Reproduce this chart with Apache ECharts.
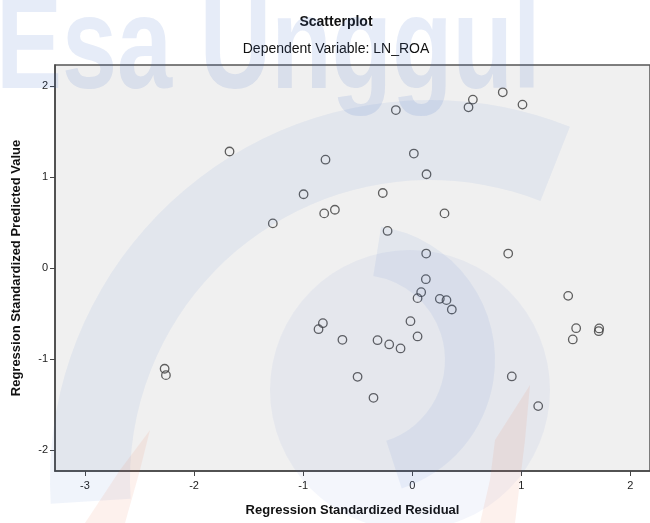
<!DOCTYPE html>
<html>
<head>
<meta charset="utf-8">
<script src="https://cdn.jsdelivr.net/npm/echarts@6/dist/echarts.min.js"></script>
<style>
html,body{margin:0;padding:0;background:#fff;}
#chart{width:650px;height:523px;}
</style>
</head>
<body>
<div id="chart"></div>
<script>
// Regression Standardized Residual (x) and Predicted Value (y)
const residuals = [
  -1.675, -0.795, -0.996, -0.807, -0.709, -1.278,
  -0.150, 0.556, 0.516, 0.830, 1.011, 0.015, 0.131, -0.270, 0.296, -0.226, 0.128, 0.880,
  -2.270, -2.258, -0.819, -0.859, -0.640,
  0.125, 0.082, 0.049, 0.253, 0.314, 0.363, -0.016, 0.049, -0.318, -0.211, -0.107,
  -0.501, -0.355, 1.430, 1.503, 1.472, 1.714, 1.710, 0.913, 1.155
];
const predicted = [
  1.28, 1.19, 0.81, 0.60, 0.64, 0.49,
  1.735, 1.85, 1.765, 1.93, 1.795, 1.257, 1.03, 0.824, 0.60, 0.407, 0.159, 0.159,
  -1.107, -1.177, -0.606, -0.672, -0.789,
  -0.123, -0.266, -0.331, -0.339, -0.353, -0.456, -0.584, -0.752, -0.793, -0.840, -0.884,
  -1.195, -1.426, -0.306, -0.661, -0.785, -0.664, -0.694, -1.191, -1.517
];
const xTicks = [-3, -2, -1, 0, 1, 2];
const yTicks = [-2, -1, 0, 1, 2];
const chartTitle = 'Scatterplot';
const chartSubtitle = 'Dependent Variable: LN_ROA';
const xTitle = 'Regression Standardized Residual';
const yTitle = 'Regression Standardized Predicted Value';
const watermark = 'Esa Unggul';

const points = residuals.map((r, i) => [r, predicted[i]]);
const FONT = '"Liberation Sans", Arial, sans-serif';

const chart = echarts.init(document.getElementById('chart'), null, {renderer: 'canvas'});
chart.setOption({
  animation: false,
  backgroundColor: '#ffffff',
  title: [
    {text: chartTitle, left: 331, top: 10, textAlign: 'center',
     textStyle: {fontFamily: FONT, fontSize: 14, fontWeight: 'bold', color: '#111'}},
    {text: chartSubtitle, left: 331, top: 37, textAlign: 'center',
     textStyle: {fontFamily: FONT, fontSize: 14, fontWeight: 'normal', color: '#111'}}
  ],
  grid: {left: 55, top: 65, right: -3, bottom: 52, show: true,
         backgroundColor: '#f0f0f0', borderColor: '#555', borderWidth: 1.5},
  xAxis: {
    type: 'value', min: -3.275, max: 2.18,
    name: xTitle, nameLocation: 'middle', nameGap: 33,
    nameTextStyle: {fontFamily: FONT, fontSize: 13, fontWeight: 'bold', color: '#111'},
    splitLine: {show: false},
    axisLine: {show: true, onZero: false, lineStyle: {color: '#444', width: 1.5}},
    axisTick: {show: true, length: 5, lineStyle: {color: '#444'}, customValues: xTicks},
    axisLabel: {customValues: xTicks, fontFamily: FONT, fontSize: 11, color: '#222', margin: 9}
  },
  yAxis: {
    type: 'value', min: -2.23, max: 2.23,
    name: yTitle, nameLocation: 'middle', nameGap: 32, nameRotate: 90,
    nameTextStyle: {fontFamily: FONT, fontSize: 13, fontWeight: 'bold', color: '#111'},
    splitLine: {show: false},
    axisLine: {show: true, onZero: false, lineStyle: {color: '#444', width: 1.5}},
    axisTick: {show: true, length: 5, lineStyle: {color: '#444'}, customValues: yTicks},
    axisLabel: {customValues: yTicks, fontFamily: FONT, fontSize: 11, color: '#222', margin: 7}
  },
  series: [{
    type: 'scatter',
    data: points,
    symbol: 'circle',
    symbolSize: 8.5,
    itemStyle: {color: 'rgba(0,0,0,0)', borderColor: '#3a3a3a', borderWidth: 1.3}
  }],
  graphic: [
    {type: 'circle', silent: true, z: 100, shape: {cx: 410, cy: 390, r: 140},
     style: {fill: 'rgba(60,110,200,0.06)'}},
    {type: 'sector', silent: true, z: 100,
     shape: {cx: 430, cy: 480, r: 380, r0: 300, startAngle: Math.PI * 0.98, endAngle: Math.PI * 1.62, clockwise: true},
     style: {fill: 'rgba(60,110,200,0.08)'}},
    {type: 'sector', silent: true, z: 100,
     shape: {cx: 360, cy: 360, r: 135, r0: 85, startAngle: -Math.PI * 0.45, endAngle: Math.PI * 0.4, clockwise: true},
     style: {fill: 'rgba(60,110,200,0.08)'}},
    {type: 'polygon', silent: true, z: 100,
     shape: {points: [[85, 523], [125, 523], [140, 470], [150, 430], [120, 470]]},
     style: {fill: 'rgba(240,120,80,0.10)'}},
    {type: 'polygon', silent: true, z: 100,
     shape: {points: [[480, 523], [515, 523], [525, 440], [530, 385], [495, 440], [490, 480]]},
     style: {fill: 'rgba(240,120,80,0.10)'}},
    {type: 'text', silent: true, z: 100, left: -4, top: -14, scaleX: 0.75,
     style: {text: watermark, font: 'bold 132px "Liberation Sans", Arial, sans-serif',
             fill: 'rgba(60,110,200,0.13)'}}
  ]
});
</script>
</body>
</html>
